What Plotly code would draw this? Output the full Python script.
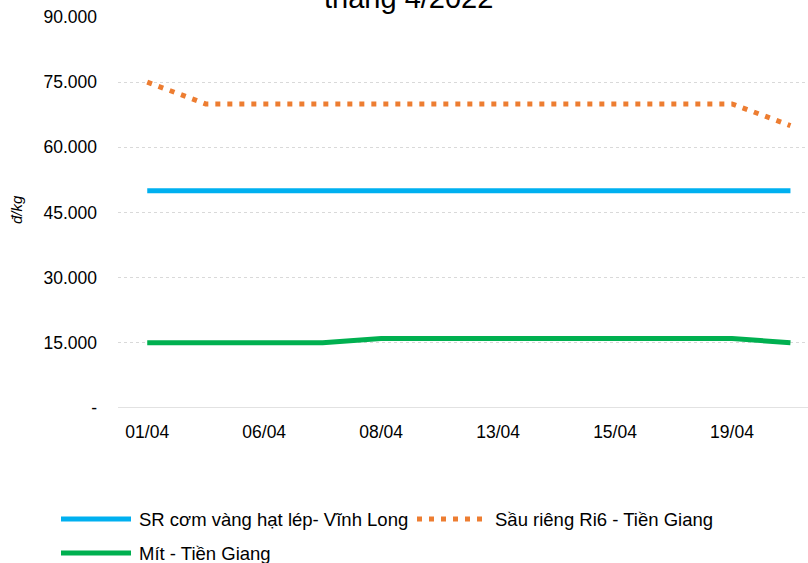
import plotly.graph_objects as go

categories = ["01/04", "05/04", "06/04", "07/04", "08/04", "12/04",
              "13/04", "14/04", "15/04", "18/04", "19/04", "20/04"]
sr_com_vang = [50000] * 12
sau_rieng_ri6 = [75000, 70000, 70000, 70000, 70000, 70000,
                 70000, 70000, 70000, 70000, 70000, 65000]
mit = [15000, 15000, 15000, 15000, 16000, 16000,
       16000, 16000, 16000, 16000, 16000, 15000]
y_ticks = [0, 15000, 30000, 45000, 60000, 75000, 90000]
y_tick_text = ["-", "15.000", "30.000", "45.000", "60.000", "75.000", "90.000"]
series_names = ["SR cơm vàng hạt lép- Vĩnh Long", "Sầu riêng Ri6 - Tiền Giang", "Mít - Tiền Giang"]

BLUE = "#00B0F0"
ORANGE = "#ED7D31"
GREEN = "#00B050"
FONT = "Liberation Sans, Arial, sans-serif"

fig = go.Figure()
fig.add_trace(go.Scatter(x=categories, y=sr_com_vang, mode="lines", name=series_names[0],
                         line=dict(color=BLUE, width=5)))
fig.add_trace(go.Scatter(x=categories, y=sau_rieng_ri6, mode="lines", name=series_names[1],
                         line=dict(color=ORANGE, width=5, dash="5px,7px")))
fig.add_trace(go.Scatter(x=categories, y=mit, mode="lines", name=series_names[2],
                         line=dict(color=GREEN, width=5)))

fig.update_layout(
    width=808, height=563,
    margin=dict(l=118, r=0, t=17, b=155),
    paper_bgcolor="white", plot_bgcolor="white",
    showlegend=False,
    font=dict(family=FONT, size=17, color="#000000"),
    xaxis=dict(
        type="category", range=[-0.5, 11.3],
        tickvals=categories[::2], ticktext=categories[::2],
        showgrid=False, ticks="", showline=False, zeroline=False,
        ticklabelstandoff=11,
        tickfont=dict(size=17.5, color="#000000"),
    ),
    yaxis=dict(
        range=[0, 90000], tickvals=y_ticks, ticktext=y_tick_text,
        showgrid=True, gridcolor="#D9D9D9", griddash="dot", gridwidth=1,
        zeroline=False, showline=False, ticks="",
        ticklabelstandoff=20,
        tickfont=dict(size=17.5, color="#000000"),
    ),
)

# x axis baseline
fig.add_shape(type="line", xref="paper", yref="y", x0=0, x1=1, y0=0, y1=0,
              line=dict(color="#D9D9D9", width=1.5), layer="below")

def px_x(px):
    return (px - 118) / 690

def px_y(py):
    return (408 - py) / 391

# Title (partially cropped at top)
fig.add_annotation(text="tháng 4/2022", xref="paper", yref="paper",
                   x=px_x(408), y=px_y(16), xanchor="center", yanchor="bottom",
                   showarrow=False, font=dict(size=29, color="#000000"))

# Y axis title
fig.add_annotation(text="<i>đ/kg</i>", xref="paper", yref="paper",
                   x=px_x(17), y=px_y(210), xanchor="center", yanchor="middle",
                   textangle=-90, showarrow=False, font=dict(size=15, color="#000000"))

# Manual legend
legend_items = [
    (series_names[0], BLUE, "solid", 61, 131, 137, 519),
    (series_names[1], ORANGE, "5px,7px", 417, 482, 493, 519),
    (series_names[2], GREEN, "solid", 61, 131, 137, 553),
]
for name, color, dash, lx0, lx1, tx, ly in legend_items:
    fig.add_shape(type="line", xref="paper", yref="paper",
                  x0=px_x(lx0), x1=px_x(lx1), y0=px_y(ly), y1=px_y(ly),
                  line=dict(color=color, width=5, dash=dash))
    fig.add_annotation(text=name, xref="paper", yref="paper", x=px_x(tx), y=px_y(ly),
                       xanchor="left", yanchor="middle", showarrow=False,
                       font=dict(size=18.5, color="#000000"))

fig.write_html("out.html", config={"displayModeBar": False},
               post_script="document.body.style.margin='0';document.body.style.overflow='hidden';")
